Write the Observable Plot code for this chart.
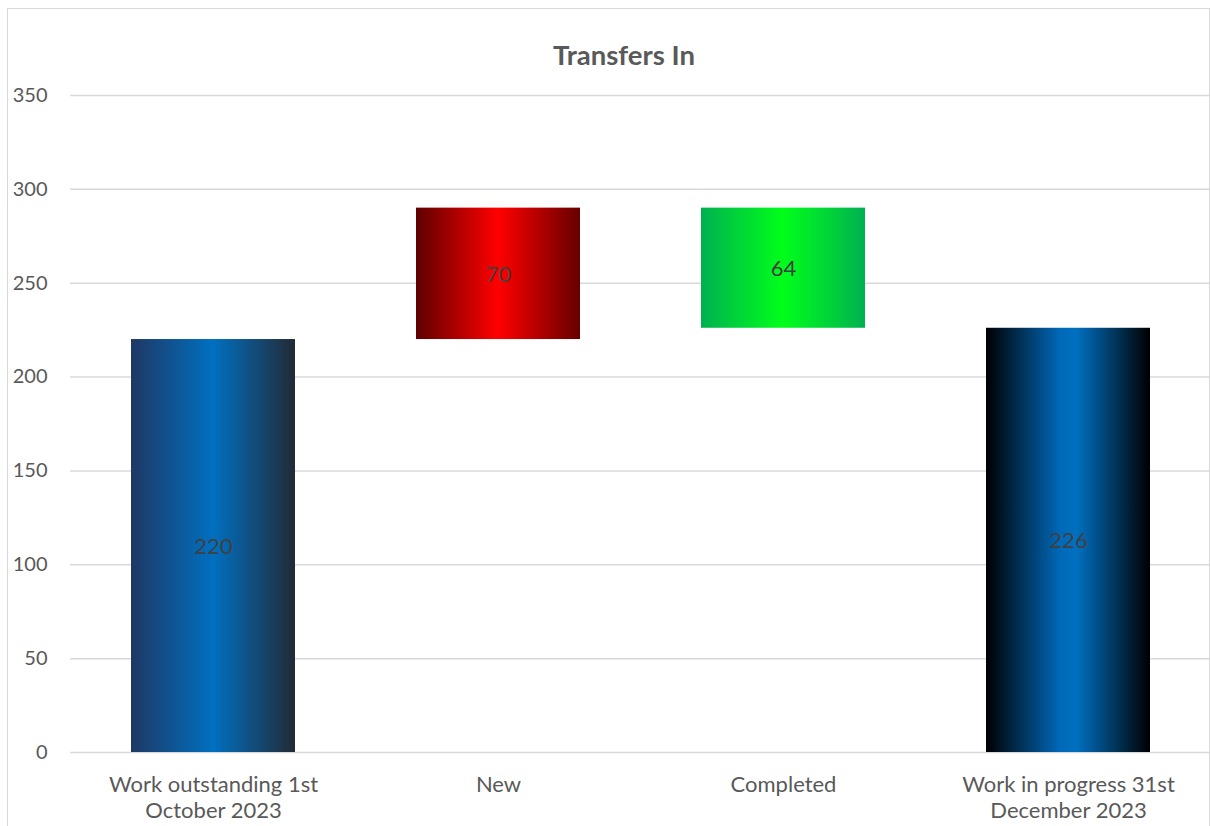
<!DOCTYPE html>
<html><head><meta charset="utf-8">
<script src="https://cdn.jsdelivr.net/npm/d3@7"></script>
<script src="https://cdn.jsdelivr.net/npm/@observablehq/plot@0.6"></script>
<style>
body{margin:0;background:#fff;font-family:Lato,"Open Sans",sans-serif;overflow:hidden;}
#frame{position:absolute;left:7px;top:8px;width:1203px;height:840px;border:1.5px solid #d9d9d9;box-sizing:border-box;pointer-events:none;z-index:2;}
#title{position:absolute;top:38px;left:0;width:1248px;text-align:center;font-weight:bold;font-size:27.5px;line-height:34px;color:#595959;z-index:3;}
#chart{position:absolute;left:0;top:0;}
</style>
</head><body>
<div id="frame"></div>
<div id="title">Transfers In</div>
<div id="chart"></div>
<script>
const categories = ["Work outstanding 1st\nOctober 2023", "New", "Completed", "Work in progress 31st\nDecember 2023"];
const barBase = [0, 220, 226, 0];
const barTop = [220, 290, 290, 226];
const values = [220, 70, 64, 226];
const gradientIds = ["gBlue1", "gRed", "gGreen", "gBlue2"];
const yTicks = [0, 50, 100, 150, 200, 250, 300, 350];

const gradients = {
  gBlue1: [["0%", "#1f3864"], ["50%", "#0070c0"], ["100%", "#222a35"]],
  gRed: [["0%", "#5e0000"], ["50%", "#ff0000"], ["100%", "#660000"]],
  gGreen: [["0%", "#00b050"], ["50%", "#00ff1a"], ["100%", "#00b050"]],
  gBlue2: [["0%", "#000000"], ["45%", "#0068b8"], ["55%", "#0070c0"], ["100%", "#000000"]]
};

const data = categories.map((c, i) => ({cat: c, y1: barBase[i], y2: barTop[i], v: values[i], g: `url(#${gradientIds[i]})`}));

const plot = Plot.plot({
  width: 1210,
  height: 826,
  marginLeft: 70,
  marginRight: 0,
  marginTop: 95,
  marginBottom: 74,
  style: {fontFamily: "Lato, 'Open Sans', sans-serif", background: "transparent", overflow: "visible"},
  x: {domain: categories, axis: null, paddingInner: 0.425, paddingOuter: 0.2125},
  y: {domain: [0, 350], axis: null},
  color: {type: "identity"},
  marks: [
    Plot.gridY(yTicks, {stroke: "#d9d9d9", strokeOpacity: 1, strokeWidth: 1.5}),
    Plot.barY(data, {x: "cat", y1: "y1", y2: "y2", fill: "g"}),
    Plot.text(data, {x: "cat", y: d => (d.y1 + d.y2) / 2, text: "v", fontSize: 22, fill: "#404040", dy: 1}),
    Plot.axisY(yTicks, {tickSize: 0, tickPadding: 23, fontSize: 20, color: "#595959"}),
    Plot.text(data, {x: "cat", y: 0, text: "cat", lineAnchor: "top", dy: 21, fontSize: 22, lineHeight: 1.18, fill: "#595959"})
  ]
});

const defs = d3.select(plot).insert("defs", ":first-child");
for (const [id, stops] of Object.entries(gradients)) {
  const lg = defs.append("linearGradient").attr("id", id).attr("x1", "0").attr("x2", "1").attr("y1", "0").attr("y2", "0");
  for (const [o, c] of stops) lg.append("stop").attr("offset", o).attr("stop-color", c);
}
document.getElementById("chart").appendChild(plot);
</script>
</body></html>
